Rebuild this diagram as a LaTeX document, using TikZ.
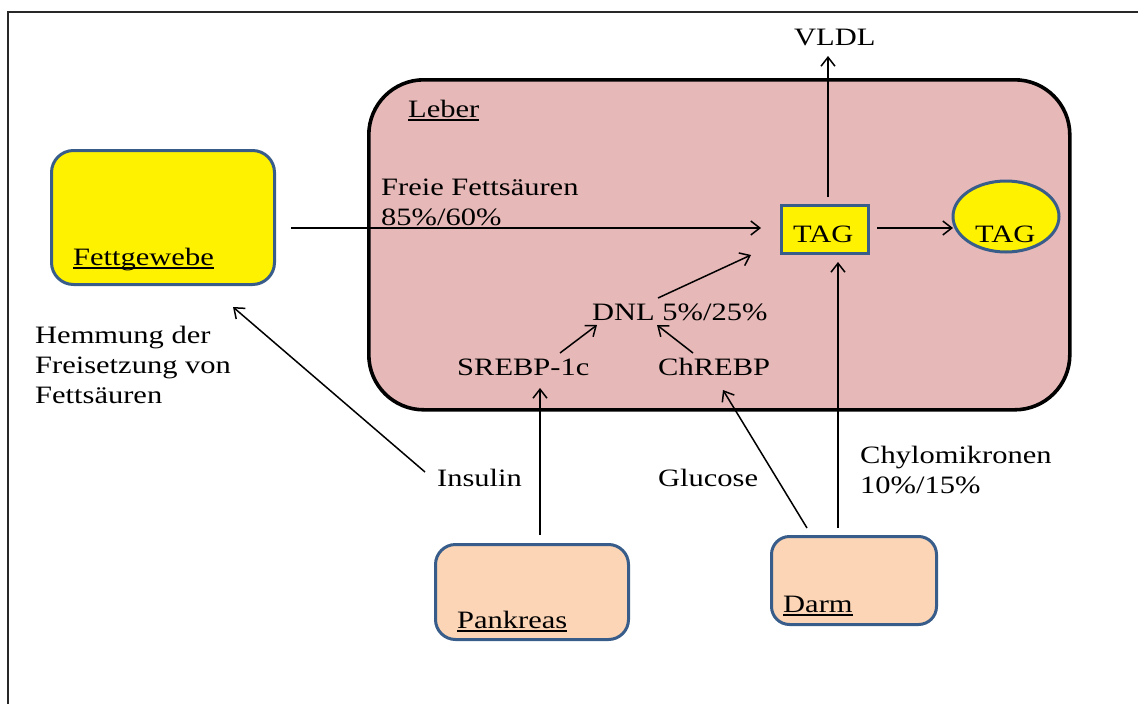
\documentclass[tikz,border=0pt]{standalone}
\usepackage{fontspec}
\setmainfont{Liberation Serif}[FakeStretch=1.22]
\usetikzlibrary{arrows.meta,shapes.geometric}
\definecolor{boxblue}{RGB}{56,93,138}
\definecolor{leberfill}{RGB}{230,184,183}
\definecolor{peach}{RGB}{251,213,181}
\definecolor{frameclr}{RGB}{40,40,40}
\newcommand\ulin[1]{\setbox0\hbox{#1}\rlap{\rule[-4pt]{\wd0}{1.8pt}}\box0}
\begin{document}
\begin{tikzpicture}[x=1pt,y=-1pt,
  font=\fontsize{25}{30}\selectfont,
  organ/.style={draw=boxblue, line width=3pt, anchor=north west, inner sep=0pt},
  lbl/.style={inner sep=0pt, anchor=base west},
  arr/.style={-{Straight Barb[length=9pt,width=14pt]}, line width=1.5pt}]
\useasboundingbox (0,0) rectangle (1138,704);
% outer frame (only top and left visible)
\draw[line width=2.2pt, draw=frameclr] (7.7,720) -- (7.7,12.3) -- (1160,12.3);

% shapes
\node[organ, fill=yellow, rounded corners=22pt, minimum width=223pt, minimum height=134pt] (fett) at (50,149) {};
\node[draw=black, line width=3.6pt, fill=leberfill, rounded corners=55pt, anchor=north west, inner sep=0pt, minimum width=701pt, minimum height=330pt] (leber) at (367,78) {};
\node[organ, fill=yellow, minimum width=87pt, minimum height=48pt] (tagr) at (780,204) {};
\node[ellipse, draw=boxblue, line width=3pt, fill=yellow, inner sep=0pt, minimum width=106pt, minimum height=71pt] (tage) at (1006,216.5) {};
\node[organ, fill=peach, rounded corners=20pt, minimum width=193pt, minimum height=95pt] (pank) at (434,543) {};
\node[organ, fill=peach, rounded corners=18pt, minimum width=165pt, minimum height=88pt] (darm) at (770,535) {};

% texts
\node[lbl] (fetttxt) at (73,265) {\ulin{Fettgewebe}};
\node[lbl] (lebertxt) at (408,117) {\ulin{Leber}};
\node[lbl] (panktxt) at (457,628) {\ulin{Pankreas}};
\node[lbl] (darmtxt) at (783,612) {\ulin{Darm}};
\node[lbl] (vldl) at (794,45) {VLDL};
\node[lbl] (ffs) at (381,195) {\begin{tabular}[t]{@{}l@{}}Freie Fettsäuren\\85\%/60\%\end{tabular}};
\node[lbl] (tagrtxt) at (793,242) {TAG};
\node[lbl] (tagetxt) at (975,242) {TAG};
\node[lbl] (dnl) at (592,320) {DNL 5\%/25\%};
\node[lbl] (srebp) at (457,375) {SREBP-1c};
\node[lbl] (chrebp) at (658,375) {ChREBP};
\node[lbl] (hemm) at (35,343) {\begin{tabular}[t]{@{}l@{}}Hemmung der\\Freisetzung von\\Fettsäuren\end{tabular}};
\node[lbl] (insulin) at (437,486) {Insulin};
\node[lbl] (glucose) at (658,486) {Glucose};
\node[lbl] (chylo) at (860,463) {\begin{tabular}[t]{@{}l@{}}Chylomikronen\\10\%/15\%\end{tabular}};

% connector end points
\coordinate (fettout) at (291,228);
\coordinate (tagin1) at (761,228);
\coordinate (tagtop) at (828,197);
\coordinate (vldlin) at (828,56);
\coordinate (tagout) at (877,228);
\coordinate (tagein) at (953,228);
\coordinate (dnlout) at (658,298);
\coordinate (tagin2) at (751,255);
\coordinate (srebpout) at (560,353);
\coordinate (dnlin1) at (597,325);
\coordinate (chrebpout) at (693,353);
\coordinate (dnlin2) at (657,325);
\coordinate (pankout) at (540,535);
\coordinate (srebpin) at (540,388);
\coordinate (darmout1) at (807,528);
\coordinate (chrebpin) at (723,390);
\coordinate (darmout2) at (838,528);
\coordinate (tagin3) at (838,262);
\coordinate (insout) at (425,472);
\coordinate (fettin) at (233,307);

% connectors
\draw[arr] (fettout) -- (tagin1);
\draw[arr] (tagtop) -- (vldlin);
\draw[arr] (tagout) -- (tagein);
\draw[arr] (dnlout) -- (tagin2);
\draw[arr] (srebpout) -- (dnlin1);
\draw[arr] (chrebpout) -- (dnlin2);
\draw[arr] (pankout) -- (srebpin);
\draw[arr] (darmout1) -- (chrebpin);
\draw[arr] (darmout2) -- (tagin3);
\draw[arr] (insout) -- (fettin);
\end{tikzpicture}
\end{document}
